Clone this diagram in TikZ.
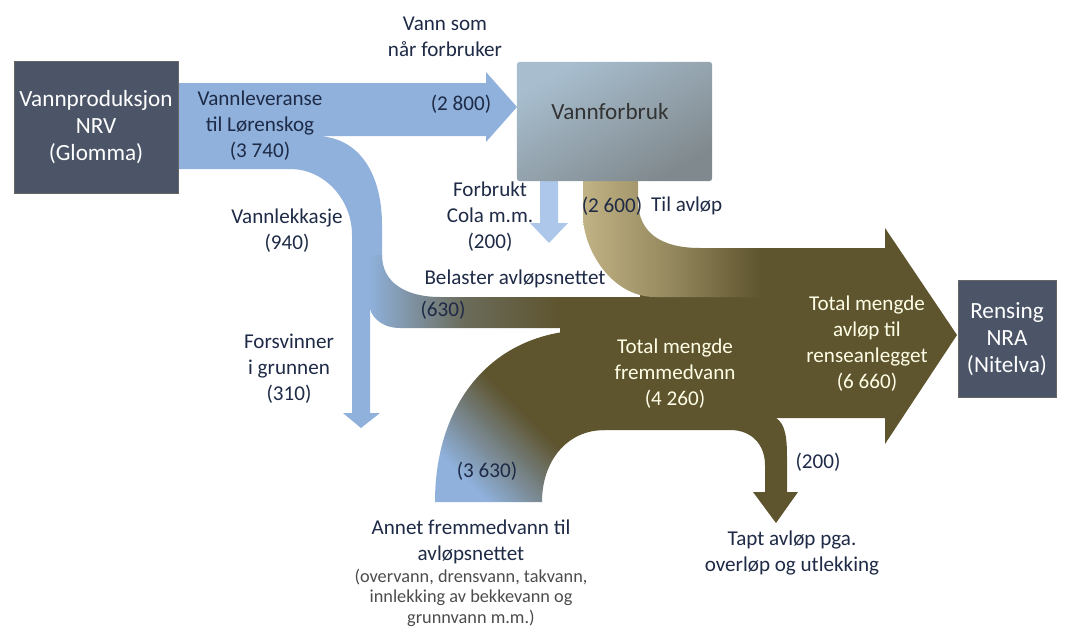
\documentclass[tikz,border=0pt]{standalone}
\usepackage{fontspec}
\setmainfont{Carlito}
\usepackage{tikz}
\usetikzlibrary{positioning}

\definecolor{flowblue}{RGB}{143,177,220}
\definecolor{lightflow}{RGB}{172,199,234}
\definecolor{sewage}{RGB}{94,84,46}
\definecolor{sand}{RGB}{192,178,132}
\definecolor{slate}{RGB}{76,85,104}
\definecolor{navy}{RGB}{30,42,70}
\definecolor{usetop}{RGB}{168,190,207}
\definecolor{usebottom}{RGB}{128,137,141}

\begin{document}
\begin{tikzpicture}[
  x=0.025cm, y=-0.025cm,
  lbl/.style={
    font=\fontsize{15}{18.5}\selectfont,
    text=navy,
    align=center,
    inner sep=0pt
  },
  wlbl/.style={lbl, text=white!90!yellow},
  note/.style={
    font=\fontsize{13}{14.6}\selectfont,
    text=black!70,
    align=center,
    inner sep=0pt
  },
  endbox/.style={
    fill=slate,
    draw=black!60,
    text=white,
    font=\fontsize{16.5}{19}\selectfont,
    align=center,
    inner sep=0pt
  }
]
\useasboundingbox (0,0) rectangle (1068,632);

% Flows
% water delivery, with leakage branch
\fill[flowblue] (178,83) -- (486,83) -- (486,72) -- (517,107) -- (486,142) -- (486,136)
  -- (315,136) .. controls (360,136) and (382,175) .. (382,225) -- (382,300)
  -- (352,300) -- (352,235) .. controls (352,200) and (325,169) .. (290,169)
  -- (178,169) -- cycle;
% lost to ground
\fill[flowblue] (352,290) -- (370,290) -- (370,413) -- (380,413) -- (361,428)
  -- (343,413) -- (352,413) -- cycle;
% consumed
\fill[lightflow] (540,181) -- (558,181) -- (558,223) -- (568,223) -- (549,243)
  -- (530,223) -- (540,223) -- cycle;

% total sewage, with overflow loss
\fill[sewage] (560,297) -- (640,297) -- (640,248) -- (885,248) -- (885,228)
  -- (957,335) -- (885,444) -- (885,418)
  -- (776,418) .. controls (786,424) and (787,440) .. (787,458) -- (787,492)
  -- (798,492) -- (776,523) -- (753,492) -- (765,492) -- (765,465)
  .. controls (765,445) and (752,430) .. (730,430) -- (560,430) -- cycle;

% leakage into the sewer
\shade[left color=flowblue, right color=sewage, middle color=sewage!75!flowblue]
  (369,255) -- (382,255) .. controls (382,282) and (405,297) .. (440,297) -- (560,297)
  -- (560,328) -- (400,328) .. controls (380,328) and (369,315) .. (369,303) -- cycle;

% other infiltration
\shade[top color=sewage, bottom color=flowblue, middle color=sewage, shading angle=-45]
  (435,502) .. controls (435,400) and (495,330) .. (590,330) -- (620,330)
  -- (605,430) .. controls (566,430) and (542,462) .. (542,502) -- cycle;

% to sewer from consumers
\shade[left color=sand, right color=sewage, middle color=sand!55!sewage]
  (583,181) -- (638,181) -- (638,200) .. controls (638,232) and (660,248) .. (700,248)
  -- (760,248) -- (760,297) -- (655,297) .. controls (612,297) and (583,250) .. (583,215)
  -- cycle;

% Boxes
\node[endbox, minimum width=4.1cm, minimum height=3.3cm] (nrv) at (96,127)
  {Vannproduksjon\\NRV\\(Glomma)};
\node[top color=usetop, bottom color=usebottom, shading angle=30, rounded corners=2pt,
  minimum width=4.88cm, minimum height=2.98cm] (use) at (614.5,121.5) {};
\node[lbl, font=\fontsize{16.5}{19}\selectfont, text=black!80] (usetxt) at (610,112) {Vannforbruk};
\node[endbox, minimum width=2.45cm, minimum height=2.93cm] (nra) at (1007,339)
  {Rensing\\NRA\\(Nitelva)};

% Labels
\node[lbl] (reach) at (445,37) {Vann som\\når forbruker};
\node[lbl] (deliv) at (260,126) {Vannleveranse\\til Lørenskog\\(3 740)};
\node[lbl] (v2800) at (461,104) {(2 800)};
\node[lbl] (cola) at (490,217) {Forbrukt\\Cola m.m.\\(200)};
\node[lbl] (v2600) at (612,206) {(2 600)};
\node[lbl, right=6pt of v2600] (tilavlop) {Til avløp};
\node[lbl] (leak) at (287,231) {Vannlekkasje\\(940)};
\node[lbl] (load) at (515,279) {Belaster avløpsnettet};
\node[lbl] (v630) at (443,310) {(630)};
\node[lbl] (ground) at (289,369) {Forsvinner\\i grunnen\\(310)};
\node[wlbl] (foreign) at (675,374) {Total mengde\\fremmedvann\\(4 260)};
\node[wlbl] (total) at (867,344) {Total mengde\\avløp til\\renseanlegget\\(6 660)};
\node[lbl] (v3630) at (487,471) {(3 630)};
\node[lbl] (v200) at (818,462) {(200)};
\node[lbl] (lost) at (792,553) {Tapt avløp pga.\\overløp og utlekking};
\node[lbl] (other) at (471,542) {Annet fremmedvann til\\avløpsnettet};
\node[note, below=3pt of other] (otherlist)
  {(overvann, drensvann, takvann,\\innlekking av bekkevann og\\grunnvann m.m.)};

\end{tikzpicture}
\end{document}
